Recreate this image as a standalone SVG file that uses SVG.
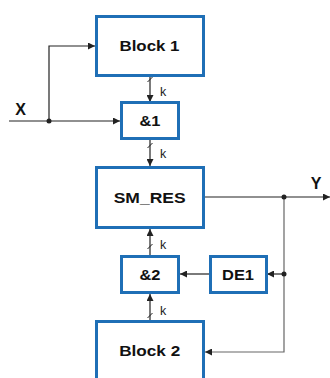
<svg xmlns="http://www.w3.org/2000/svg" width="330" height="378" viewBox="0 0 330 378">
<style>
.box{fill:#fff;stroke:#1f6fb6;stroke-width:3}
.lbl{font-family:"Liberation Sans",Arial,sans-serif;font-weight:bold;font-size:15px;fill:#111;text-anchor:middle}
.io{font-size:16px}
.k{font-family:"Liberation Sans",Arial,sans-serif;font-size:12.5px;fill:#222}
.ln{fill:none;stroke:#222;stroke-width:1.2}
.gl{fill:none;stroke:#666;stroke-width:1.2}
.sl{stroke:#222;stroke-width:1}
.dot{fill:#222}
</style>
<defs>
<marker id="ar" viewBox="0 0 10 10" refX="10" refY="5" markerWidth="8" markerHeight="7" markerUnits="userSpaceOnUse" orient="auto">
<path d="M0,0 L10,5 L0,10 z" fill="#222"/>
</marker>
</defs>
<g id="connectors">
<path class="ln" d="M9,121 H120" marker-end="url(#ar)"/>
<path class="ln" d="M49,121 V46 H95" marker-end="url(#ar)"/>
<path class="ln" d="M150,75 V102" marker-end="url(#ar)"/>
<line class="sl" x1="147.5" y1="82" x2="152.5" y2="77"/>
<path class="ln" d="M150,139 V166" marker-end="url(#ar)"/>
<line class="sl" x1="147.5" y1="148" x2="152.5" y2="143"/>
<path class="ln" d="M204,197 H330" marker-end="url(#ar)"/>
<path class="gl" d="M284,197 V352 H205" marker-end="url(#ar)"/>
<path class="ln" d="M284,274 H267" marker-end="url(#ar)"/>
<path class="ln" d="M210,274 H180" marker-end="url(#ar)"/>
<path class="ln" d="M150,257 V229" marker-end="url(#ar)"/>
<line class="sl" x1="147.5" y1="249" x2="152.5" y2="244"/>
<path class="ln" d="M150,322 V294" marker-end="url(#ar)"/>
<line class="sl" x1="147.5" y1="318" x2="152.5" y2="313"/>
<circle class="dot" cx="49" cy="121" r="2.5"/>
<circle class="dot" cx="284" cy="197" r="2.5"/>
<circle class="dot" cx="284" cy="274" r="2.5"/>
<text class="k" x="160" y="96">k</text>
<text class="k" x="160" y="158">k</text>
<text class="k" x="160" y="249">k</text>
<text class="k" x="160" y="315">k</text>
<text class="lbl io" x="20.5" y="114.5">X</text>
<text class="lbl io" x="316" y="188.5">Y</text>
</g>
<g id="block1">
<rect class="box" x="96.5" y="16.5" width="107" height="59"/>
<text class="lbl" x="149.5" y="51" textLength="60" lengthAdjust="spacingAndGlyphs">Block 1</text>
</g>
<g id="and1">
<rect class="box" x="121.5" y="102.5" width="57" height="36"/>
<text class="lbl" x="150" y="126" textLength="21" lengthAdjust="spacingAndGlyphs">&amp;1</text>
</g>
<g id="smres">
<rect class="box" x="96.5" y="167.5" width="107" height="60"/>
<text class="lbl" x="149.7" y="202.5" textLength="72" lengthAdjust="spacingAndGlyphs">SM_RES</text>
</g>
<g id="and2">
<rect class="box" x="121.5" y="256.5" width="57" height="36"/>
<text class="lbl" x="150" y="280" textLength="21" lengthAdjust="spacingAndGlyphs">&amp;2</text>
</g>
<g id="de1">
<rect class="box" x="210.5" y="256.5" width="56" height="36"/>
<text class="lbl" x="238" y="280" textLength="32" lengthAdjust="spacingAndGlyphs">DE1</text>
</g>
<g id="block2">
<rect class="box" x="96.5" y="321.5" width="107" height="62"/>
<text class="lbl" x="149.7" y="356" textLength="61" lengthAdjust="spacingAndGlyphs">Block 2</text>
</g>
</svg>
